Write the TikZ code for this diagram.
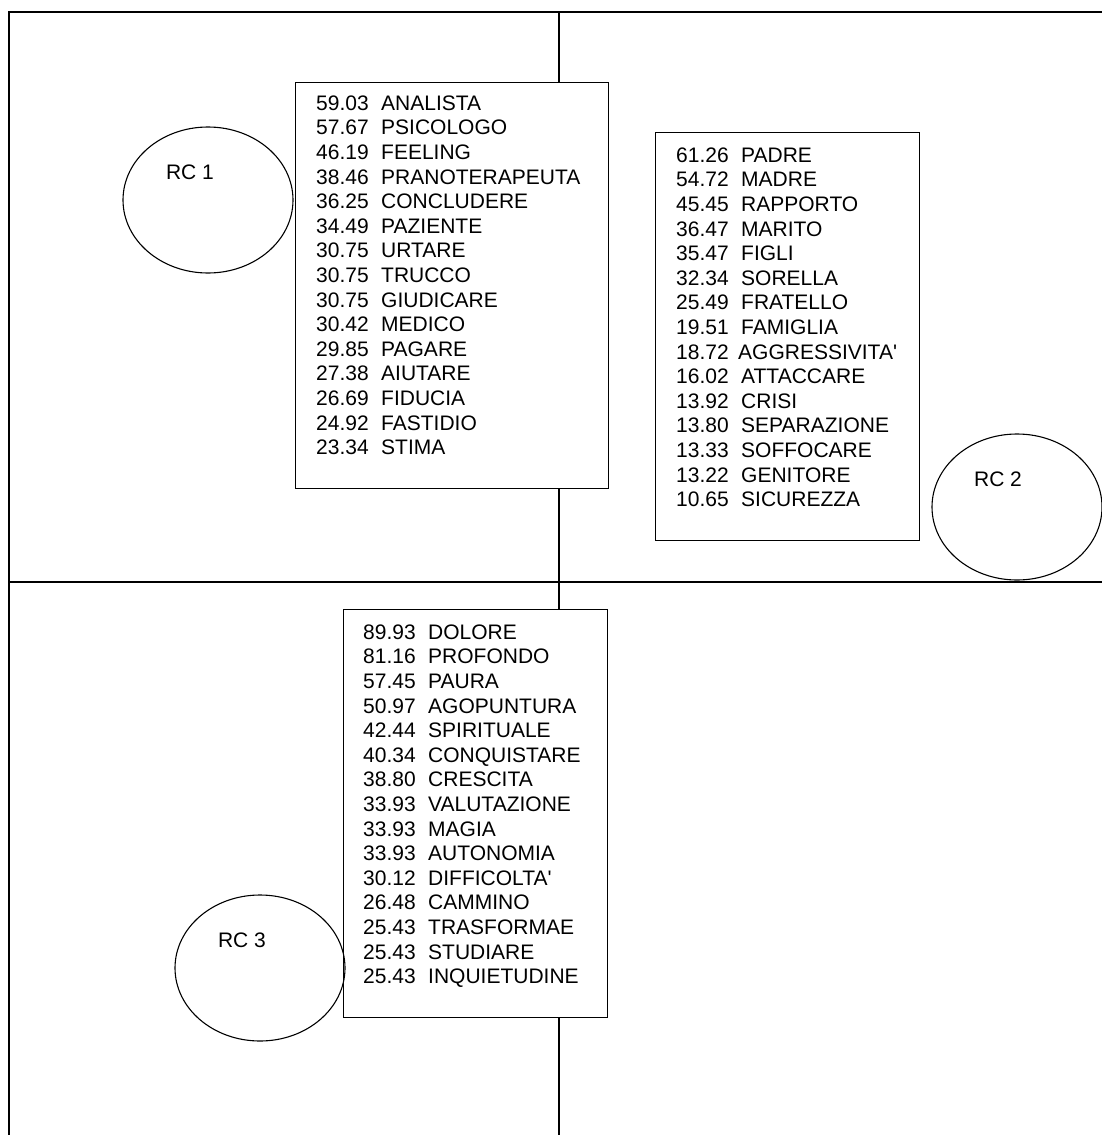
\documentclass[tikz,border=0pt]{standalone}
\usepackage{fontspec}
\setmainfont{Liberation Sans}
\usetikzlibrary{shapes.geometric, positioning}
\newcommand{\wrd}[2]{\makebox[65pt][l]{#1}#2}

\begin{document}
\begin{tikzpicture}[x=1pt, y=-1pt,
    wordbox/.style={draw, line width=1.3pt, fill=white, anchor=north west, inner sep=0pt},
    wordlist/.style={anchor=north west, inner sep=0pt, align=left, font=\fontsize{21}{24.6}\selectfont},
    rcshape/.style={ellipse, draw, line width=1.1pt, minimum width=170pt, minimum height=146pt, inner sep=0pt},
    rclabel/.style={inner sep=0pt, font=\fontsize{21}{24.6}\selectfont}]
    \useasboundingbox (0,0) rectangle (1102,1135);

    % Frame and axes
    \draw[line width=2pt] (9,1135) -- (9,12) -- (1102,12);
    \draw[line width=1.2pt] (559,12) -- (559,1135);
    \draw[line width=1.2pt] (9,582) -- (1102,582);

    % RC 1 box
    \node[wordbox, minimum width=313pt, minimum height=406pt] (box1) at (295,82) {};
    \node[wordlist, below right=13.5pt and 21pt of box1.north west] (list1) {%
        \wrd{59.03}{ANALISTA}\\ \wrd{57.67}{PSICOLOGO}\\ \wrd{46.19}{FEELING}\\
        \wrd{38.46}{PRANOTERAPEUTA}\\ \wrd{36.25}{CONCLUDERE}\\ \wrd{34.49}{PAZIENTE}\\
        \wrd{30.75}{URTARE}\\ \wrd{30.75}{TRUCCO}\\ \wrd{30.75}{GIUDICARE}\\
        \wrd{30.42}{MEDICO}\\ \wrd{29.85}{PAGARE}\\ \wrd{27.38}{AIUTARE}\\
        \wrd{26.69}{FIDUCIA}\\ \wrd{24.92}{FASTIDIO}\\ \wrd{23.34}{STIMA}};

    % RC 2 box
    \node[wordbox, minimum width=264pt, minimum height=408pt] (box2) at (655,132) {};
    \node[wordlist, below right=15.5pt and 21pt of box2.north west] (list2) {%
        \wrd{61.26}{PADRE}\\ \wrd{54.72}{MADRE}\\ \wrd{45.45}{RAPPORTO}\\
        \wrd{36.47}{MARITO}\\ \wrd{35.47}{FIGLI}\\ \wrd{32.34}{SORELLA}\\
        \wrd{25.49}{FRATELLO}\\ \wrd{19.51}{FAMIGLIA}\\ \makebox[62pt][l]{18.72}AGGRESSIVITA\textquotesingle\\
        \wrd{16.02}{ATTACCARE}\\ \wrd{13.92}{CRISI}\\ \wrd{13.80}{SEPARAZIONE}\\
        \wrd{13.33}{SOFFOCARE}\\ \wrd{13.22}{GENITORE}\\ \wrd{10.65}{SICUREZZA}};

    % RC 3 box
    \node[wordbox, minimum width=264pt, minimum height=408pt] (box3) at (343,609) {};
    \node[wordlist, below right=15.5pt and 20pt of box3.north west] (list3) {%
        \wrd{89.93}{DOLORE}\\ \wrd{81.16}{PROFONDO}\\ \wrd{57.45}{PAURA}\\
        \wrd{50.97}{AGOPUNTURA}\\ \wrd{42.44}{SPIRITUALE}\\ \wrd{40.34}{CONQUISTARE}\\
        \wrd{38.80}{CRESCITA}\\ \wrd{33.93}{VALUTAZIONE}\\ \wrd{33.93}{MAGIA}\\
        \wrd{33.93}{AUTONOMIA}\\ \wrd{30.12}{DIFFICOLTA\textquotesingle}\\ \wrd{26.48}{CAMMINO}\\
        \wrd{25.43}{TRASFORMAE}\\ \wrd{25.43}{STUDIARE}\\ \wrd{25.43}{INQUIETUDINE}};

    % Ellipses
    \node[rcshape] (rc1) at (208,200) {};
    \node[rclabel] (rc1text) at ([shift={(-18,-28)}]rc1.center) {RC 1};
    \node[rcshape] (rc2) at (1017,507) {};
    \node[rclabel] (rc2text) at ([shift={(-19,-28)}]rc2.center) {RC 2};
    \node[rcshape] (rc3) at (260,968) {};
    \node[rclabel] (rc3text) at ([shift={(-18,-28)}]rc3.center) {RC 3};
\end{tikzpicture}
\end{document}
